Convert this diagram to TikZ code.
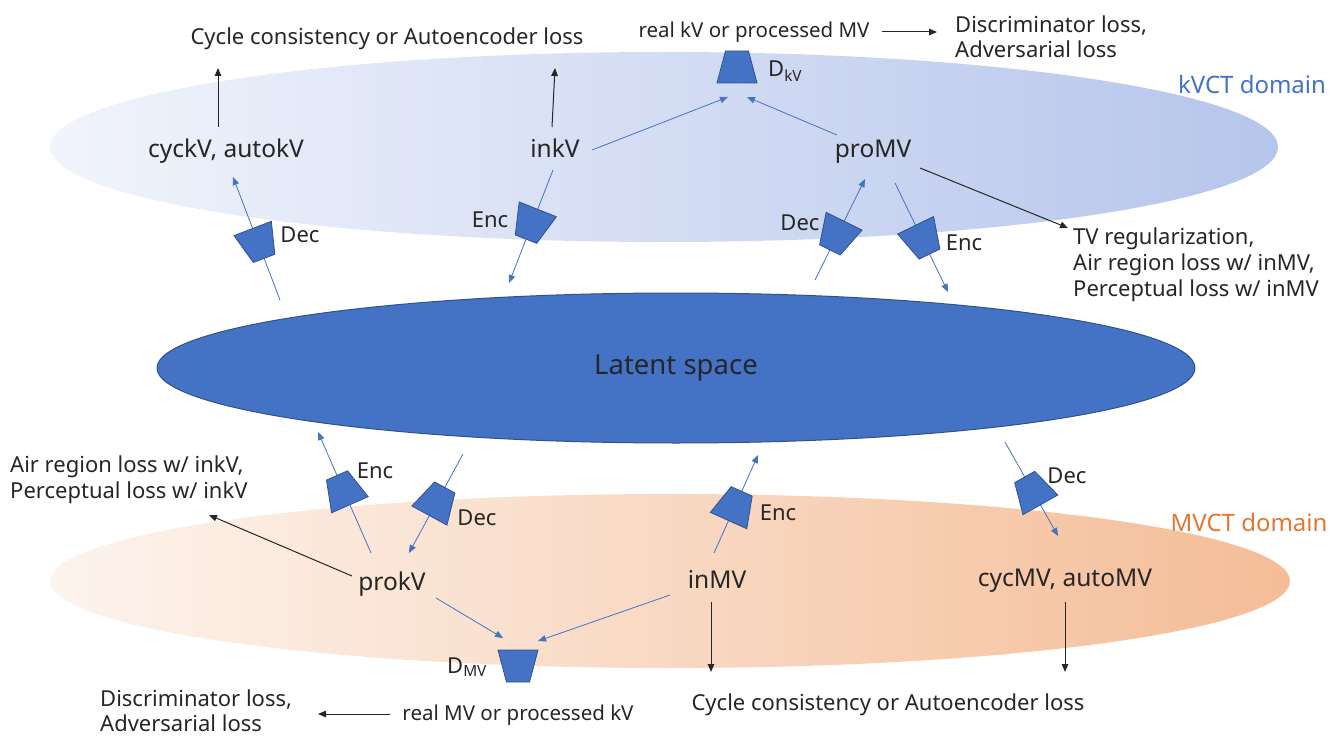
\documentclass[tikz,border=0pt]{standalone}
\usepackage{fontspec}
\setmainfont{Noto Sans}
\usetikzlibrary{shapes.geometric,arrows.meta}

\definecolor{accent}{HTML}{4472C4}
\definecolor{accentdark}{HTML}{2F528F}
\definecolor{ink}{HTML}{262626}
\definecolor{kvlight}{RGB}{241,244,252}
\definecolor{kvdark}{RGB}{182,197,235}
\definecolor{mvlight}{RGB}{253,244,238}
\definecolor{mvdark}{RGB}{244,189,151}
\definecolor{mvlabel}{RGB}{228,118,50}

\begin{document}
\begin{tikzpicture}[x=1pt,y=-1pt,
  every node/.style={text=ink, inner sep=0pt},
  lossfont/.style={font=\fontsize{22}{26}\selectfont},
  tightfont/.style={font=\fontsize{22}{25}\selectfont},
  smallfont/.style={font=\fontsize{20.5}{24}\selectfont},
  datafont/.style={font=\fontsize{24.5}{29}\selectfont},
  domfont/.style={font=\fontsize{24}{28}\selectfont},
  latentfont/.style={font=\fontsize{27.5}{32}\selectfont},
  domainshape/.style={ellipse, draw=none, inner sep=0pt},
  % trapezoid block: wide side on the local -y side
  coderpic/.pic={\filldraw[fill=accent, draw=accentdark, line width=0.8pt]
     (-20pt,-16pt) -- (20pt,-16pt) -- (11.5pt,16pt) -- (-11.5pt,16pt) -- cycle;},
  barrow/.style={draw=accent, line width=0.8pt, -{Triangle[width=6.5pt,length=8pt]}},
  karrow/.style={draw=ink, line width=1pt, -{Triangle[width=6.5pt,length=8pt]}},
]
\useasboundingbox (0,0) rectangle (1333,738);

% domains and the shared latent space
\node[domainshape, left color=kvlight, right color=kvdark,
      minimum width=1228pt, minimum height=190pt] (kvct) at (664,147) {};
\node[domainshape, left color=mvlight, right color=mvdark,
      minimum width=1240pt, minimum height=174pt] (mvct) at (670,581) {};
\node[ellipse, fill=accent, draw=accentdark, line width=1pt, latentfont,
      minimum width=1038pt, minimum height=150pt] (latent) at (676,368) {Latent space};

% image nodes
\node[datafont, anchor=base] (cyckv) at (226,158) {cyckV, autokV};
\node[datafont, anchor=base] (inkv)  at (555,158) {inkV};
\node[datafont, anchor=base] (promv) at (873,158) {proMV};
\node[datafont, anchor=base] (prokv) at (392,590) {prokV};
\node[datafont, anchor=base] (inmv)  at (717,588) {inMV};
\node[datafont, anchor=base] (cycmv) at (1065,586) {cycMV, autoMV};

% domain labels
\node[domfont, text=accent, anchor=base] (kvlab) at (1252,94) {kVCT domain};
\node[domfont, text=mvlabel, anchor=base] (mvlab) at (1249,531) {MVCT domain};

% loss texts
\node[lossfont, anchor=base] (cyctop) at (387,45) {Cycle consistency or Autoencoder loss};
\node[smallfont, anchor=base] (realkv) at (754,38) {real kV or processed MV};
\node[tightfont, anchor=north west, align=left] (disctop) at (955,16) {Discriminator loss,\\Adversarial loss};
\node[lossfont, anchor=north west, align=left] (tvreg) at (1073,228) {TV regularization,\\Air region loss w/ inMV,\\Perceptual loss w/ inMV};
\node[lossfont, anchor=north west, align=left] (airkv) at (10,456) {Air region loss w/ inkV,\\Perceptual loss w/ inkV};
\node[tightfont, anchor=north west, align=left] (discbot) at (100,690) {Discriminator loss,\\Adversarial loss};
\node[smallfont, anchor=base] (realmv) at (518,720) {real MV or processed kV};
\node[lossfont, anchor=base] (cycbot) at (888,710) {Cycle consistency or Autoencoder loss};

% discriminators
\coordinate (dkv) at (737,67);
\coordinate (dmv) at (518,666);
\pic at (dkv) {coderpic};
\pic[rotate=180] at (dmv) {coderpic};
\node[lossfont, anchor=base west] (dkvl) at (768,77) {D\textsubscript{kV}};
\node[lossfont, anchor=base west] (dmvl) at (447,673) {D\textsubscript{MV}};

% end points of the encoder / decoder paths
\coordinate (a0) at (280,300);  \coordinate (a1) at (233,177);
\coordinate (b0) at (553,170);  \coordinate (b1) at (509,283);
\coordinate (c0) at (815,280);  \coordinate (c1) at (865,179);
\coordinate (d0) at (895,183);  \coordinate (d1) at (948,292);
\coordinate (e0) at (371,553);  \coordinate (e1) at (318,432);
\coordinate (f0) at (463,454);  \coordinate (f1) at (409,553);
\coordinate (g0) at (714,553);  \coordinate (g1) at (758,455);
\coordinate (h0) at (1005,442); \coordinate (h1) at (1058,536);

% encoders and decoders (wide side towards the larger image)
\draw[barrow] (a0) -- coordinate[pos=0.46] (decA) (a1);
\draw[barrow] (b0) -- coordinate[pos=0.48] (encB) (b1);
\draw[barrow] (c0) -- coordinate[pos=0.44] (decC) (c1);
\draw[barrow] (d0) -- coordinate[pos=0.52] (encD) (d1);
\draw[barrow] (e0) -- coordinate[pos=0.52] (encE) (e1);
\draw[barrow] (f0) -- coordinate[pos=0.48] (decF) (f1);
\draw[barrow] (g0) -- coordinate[pos=0.48] (encG) (g1);
\draw[barrow] (h0) -- coordinate[pos=0.52] (decH) (h1);
\pic[rotate=200.9] at (decA) {coderpic};
\pic[rotate=158.3] at (encB) {coderpic};
\pic[rotate=153.7] at (decC) {coderpic};
\pic[rotate=205.9] at (encD) {coderpic};
\pic[rotate=23.7]  at (encE) {coderpic};
\pic[rotate=-28.6] at (decF) {coderpic};
\pic[rotate=-24.2] at (encG) {coderpic};
\pic[rotate=29.4]  at (decH) {coderpic};

\node[lossfont, anchor=base] (decAl) at (300,243) {Dec};
\node[lossfont, anchor=base] (encBl) at (490,227) {Enc};
\node[lossfont, anchor=base] (decCl) at (800,230) {Dec};
\node[lossfont, anchor=base] (encDl) at (964,251) {Enc};
\node[lossfont, anchor=base] (encEl) at (375,478) {Enc};
\node[lossfont, anchor=base] (decFl) at (477,525) {Dec};
\node[lossfont, anchor=base] (encGl) at (778,520) {Enc};
\node[lossfont, anchor=base] (decHl) at (1067,483) {Dec};

% discriminator inputs
\coordinate (ikv) at (592,150); \coordinate (dkvin1) at (728,97);
\coordinate (pmv) at (837,135); \coordinate (dkvin2) at (747,97);
\coordinate (pkv) at (436,598); \coordinate (dmvin1) at (503,638);
\coordinate (imv) at (670,595); \coordinate (dmvin2) at (538,641);
\draw[barrow] (ikv) -- (dkvin1);
\draw[barrow] (pmv) -- (dkvin2);
\draw[barrow] (pkv) -- (dmvin1);
\draw[barrow] (imv) -- (dmvin2);

% loss arrows
\coordinate (l1s) at (218,127);  \coordinate (l1e) at (218,68);
\coordinate (l2s) at (552,127);  \coordinate (l2e) at (555,68);
\coordinate (l3s) at (920,168);  \coordinate (l3e) at (1068,228);
\coordinate (l4s) at (352,576);  \coordinate (l4e) at (209,515);
\coordinate (l5s) at (711,602);  \coordinate (l5e) at (711,672);
\coordinate (l6s) at (1065,602); \coordinate (l6e) at (1065,672);
\coordinate (l7s) at (882,32);   \coordinate (l7e) at (937,32);
\coordinate (l8s) at (390,714);  \coordinate (l8e) at (318,714);
\foreach \i in {1,...,8} \draw[karrow] (l\i s) -- (l\i e);
\end{tikzpicture}
\end{document}
